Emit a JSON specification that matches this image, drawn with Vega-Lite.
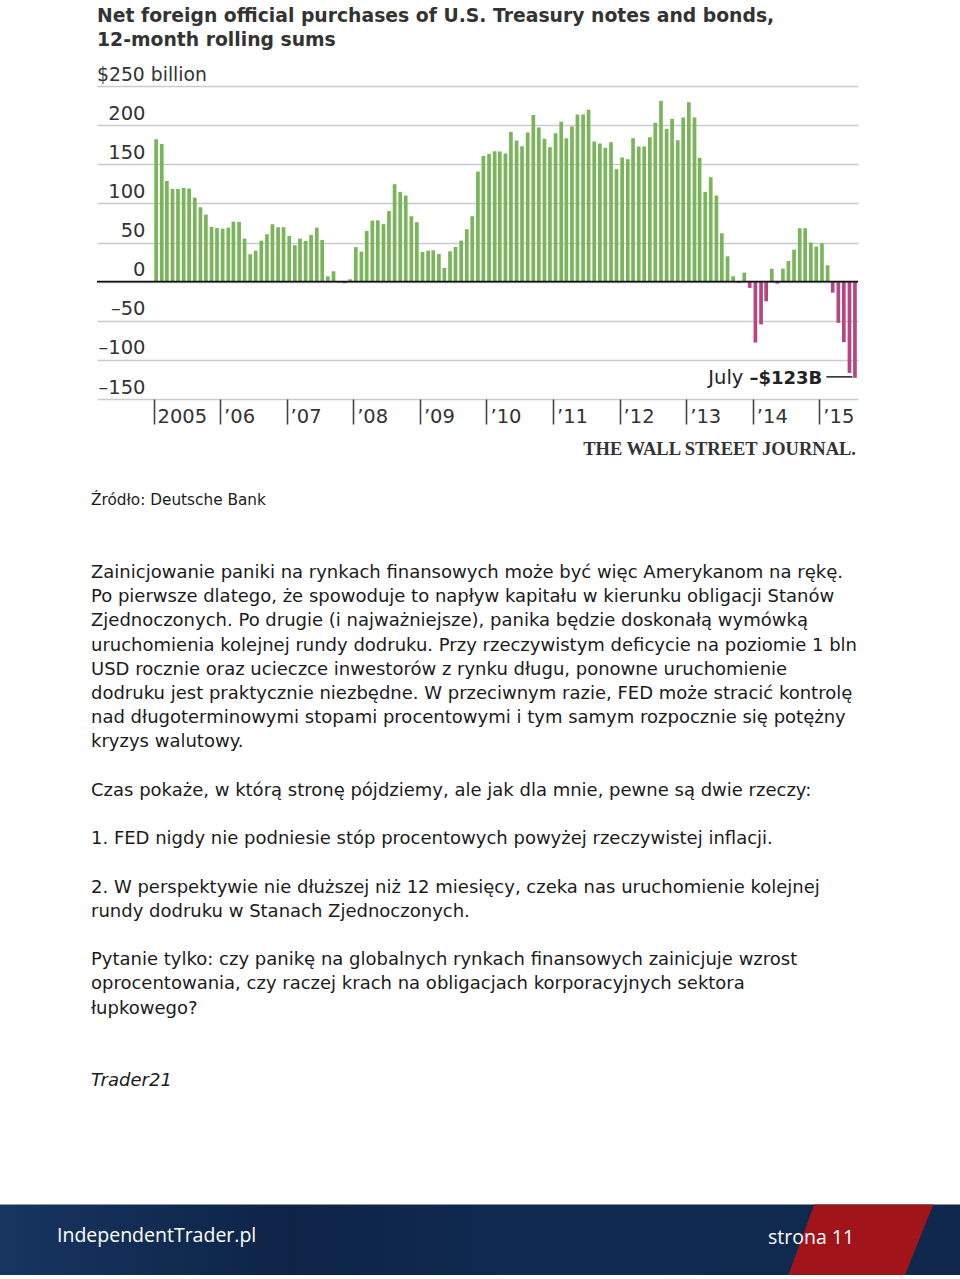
{
  "$schema": "https://vega.github.io/schema/vega-lite/v6.json",
  "width": 761,
  "height": 313,
  "autosize": {"type": "none"},
  "padding": {"left": 97, "top": 86, "right": 102, "bottom": 880},
  "background": "white",
  "config": {"view": {"stroke": null}},
  "datasets": {
    "purchases": [
      {"month": "2005-01", "value": 182}, {"month": "2005-02", "value": 176}, {"month": "2005-03", "value": 128.7}, {"month": "2005-04", "value": 118.5}, {"month": "2005-05", "value": 118.5}, {"month": "2005-06", "value": 119.8}, {"month": "2005-07", "value": 119}, {"month": "2005-08", "value": 107.4}, {"month": "2005-09", "value": 95}, {"month": "2005-10", "value": 85.7}, {"month": "2005-11", "value": 69.9}, {"month": "2005-12", "value": 68.6},
      {"month": "2006-01", "value": 67.8}, {"month": "2006-02", "value": 69}, {"month": "2006-03", "value": 76.7}, {"month": "2006-04", "value": 76.3}, {"month": "2006-05", "value": 55}, {"month": "2006-06", "value": 35}, {"month": "2006-07", "value": 39.6}, {"month": "2006-08", "value": 52.4}, {"month": "2006-09", "value": 60.5}, {"month": "2006-10", "value": 73.3}, {"month": "2006-11", "value": 69.5}, {"month": "2006-12", "value": 69.5},
      {"month": "2007-01", "value": 58.4}, {"month": "2007-02", "value": 46.5}, {"month": "2007-03", "value": 55}, {"month": "2007-04", "value": 52}, {"month": "2007-05", "value": 59.7}, {"month": "2007-06", "value": 69}, {"month": "2007-07", "value": 53.3}, {"month": "2007-08", "value": 6.8}, {"month": "2007-09", "value": 13.2}, {"month": "2007-10", "value": -1}, {"month": "2007-11", "value": -2}, {"month": "2007-12", "value": 3},
      {"month": "2008-01", "value": 44}, {"month": "2008-02", "value": 38.4}, {"month": "2008-03", "value": 64.8}, {"month": "2008-04", "value": 78}, {"month": "2008-05", "value": 78.4}, {"month": "2008-06", "value": 73.5}, {"month": "2008-07", "value": 90.2}, {"month": "2008-08", "value": 124.5}, {"month": "2008-09", "value": 114.7}, {"month": "2008-10", "value": 110}, {"month": "2008-11", "value": 83.6}, {"month": "2008-12", "value": 75.9},
      {"month": "2009-01", "value": 38}, {"month": "2009-02", "value": 39.6}, {"month": "2009-03", "value": 40}, {"month": "2009-04", "value": 35.4}, {"month": "2009-05", "value": 17.5}, {"month": "2009-06", "value": 38.8}, {"month": "2009-07", "value": 44.3}, {"month": "2009-08", "value": 52.4}, {"month": "2009-09", "value": 67}, {"month": "2009-10", "value": 83.6}, {"month": "2009-11", "value": 140.7}, {"month": "2009-12", "value": 160.7},
      {"month": "2010-01", "value": 163.3}, {"month": "2010-02", "value": 166.7}, {"month": "2010-03", "value": 166.3}, {"month": "2010-04", "value": 163.7}, {"month": "2010-05", "value": 191.4}, {"month": "2010-06", "value": 180.3}, {"month": "2010-07", "value": 173}, {"month": "2010-08", "value": 190.6}, {"month": "2010-09", "value": 213}, {"month": "2010-10", "value": 197}, {"month": "2010-11", "value": 182.5}, {"month": "2010-12", "value": 171.8},
      {"month": "2011-01", "value": 189.7}, {"month": "2011-02", "value": 204.2}, {"month": "2011-03", "value": 183.3}, {"month": "2011-04", "value": 198.2}, {"month": "2011-05", "value": 213.6}, {"month": "2011-06", "value": 213.6}, {"month": "2011-07", "value": 219.5}, {"month": "2011-08", "value": 179}, {"month": "2011-09", "value": 176.5}, {"month": "2011-10", "value": 171}, {"month": "2011-11", "value": 178.2}, {"month": "2011-12", "value": 143.7},
      {"month": "2012-01", "value": 158.6}, {"month": "2012-02", "value": 156.5}, {"month": "2012-03", "value": 183.3}, {"month": "2012-04", "value": 172.6}, {"month": "2012-05", "value": 172.6}, {"month": "2012-06", "value": 184.6}, {"month": "2012-07", "value": 202.9}, {"month": "2012-08", "value": 231}, {"month": "2012-09", "value": 195.2}, {"month": "2012-10", "value": 208}, {"month": "2012-11", "value": 180.7}, {"month": "2012-12", "value": 209.7},
      {"month": "2013-01", "value": 229.3}, {"month": "2013-02", "value": 209.7}, {"month": "2013-03", "value": 158.2}, {"month": "2013-04", "value": 114.7}, {"month": "2013-05", "value": 133.4}, {"month": "2013-06", "value": 110}, {"month": "2013-07", "value": 61.8}, {"month": "2013-08", "value": 32.4}, {"month": "2013-09", "value": 6.8}, {"month": "2013-10", "value": -1.5}, {"month": "2013-11", "value": 11.5}, {"month": "2013-12", "value": -8},
      {"month": "2014-01", "value": -77.8}, {"month": "2014-02", "value": -54.7}, {"month": "2014-03", "value": -25.2}, {"month": "2014-04", "value": 16.5}, {"month": "2014-05", "value": -2.5}, {"month": "2014-06", "value": 16.6}, {"month": "2014-07", "value": 26.4}, {"month": "2014-08", "value": 40.9}, {"month": "2014-09", "value": 68.2}, {"month": "2014-10", "value": 68.2}, {"month": "2014-11", "value": 49.9}, {"month": "2014-12", "value": 44.8},
      {"month": "2015-01", "value": 49}, {"month": "2015-02", "value": 20.9}, {"month": "2015-03", "value": -14.1}, {"month": "2015-04", "value": -52.6}, {"month": "2015-05", "value": -77.4}, {"month": "2015-06", "value": -116.7}, {"month": "2015-07", "value": -123}
    ],
    "labels": [{"unit": "$250 billion", "month": "July", "amount": "–$123B", "credit": "THE WALL STREET JOURNAL."}],
    "title": [
      {"line": 1, "text": "Net foreign official purchases of U.S. Treasury notes and bonds,"},
      {"line": 2, "text": "12-month rolling sums"}
    ],
    "source": [{"line": -3, "text": "Źródło: Deutsche Bank"}],
    "body": [
      {"line": 0, "text": "Zainicjowanie paniki na rynkach finansowych może być więc Amerykanom na rękę."},
      {"line": 1, "text": "Po pierwsze dlatego, że spowoduje to napływ kapitału w kierunku obligacji Stanów"},
      {"line": 2, "text": "Zjednoczonych. Po drugie (i najważniejsze), panika będzie doskonałą wymówką"},
      {"line": 3, "text": "uruchomienia kolejnej rundy dodruku. Przy rzeczywistym deficycie na poziomie 1 bln"},
      {"line": 4, "text": "USD rocznie oraz ucieczce inwestorów z rynku długu, ponowne uruchomienie"},
      {"line": 5, "text": "dodruku jest praktycznie niezbędne. W przeciwnym razie, FED może stracić kontrolę"},
      {"line": 6, "text": "nad długoterminowymi stopami procentowymi i tym samym rozpocznie się potężny"},
      {"line": 7, "text": "kryzys walutowy."},
      {"line": 9, "text": "Czas pokaże, w którą stronę pójdziemy, ale jak dla mnie, pewne są dwie rzeczy:"},
      {"line": 11, "text": "1.  FED nigdy nie podniesie stóp procentowych powyżej rzeczywistej inflacji."},
      {"line": 13, "text": "2.  W perspektywie nie dłuższej niż 12 miesięcy, czeka nas uruchomienie kolejnej"},
      {"line": 14, "text": "rundy dodruku w Stanach Zjednoczonych."},
      {"line": 16, "text": "Pytanie tylko: czy panikę na globalnych rynkach finansowych zainicjuje wzrost"},
      {"line": 17, "text": "oprocentowania, czy raczej krach na obligacjach korporacyjnych sektora"},
      {"line": 18, "text": "łupkowego?"}
    ],
    "signature": [{"line": 21, "text": "Trader21"}],
    "footer": [{"site": "IndependentTrader.pl", "page": "strona 11"}]
  },
  "layer": [
    {
      "layer": [
        {
          "data": {"name": "purchases"},
          "mark": {"type": "bar", "width": 3.7, "xOffset": 2.6},
          "encoding": {
            "x": {
              "field": "month", "type": "temporal",
              "scale": {"type": "utc", "nice": false, "padding": 0, "domain": [{"year": 2004, "month": 2, "date": 26, "utc": true}, {"year": 2015, "month": 8, "date": 1, "utc": true}]},
              "axis": {
                "title": null, "domain": false, "grid": false, "tickCount": 40,
                "values": [{"year": 2005, "month": 1, "date": 1, "utc": true}, {"year": 2006, "month": 1, "date": 1, "utc": true}, {"year": 2007, "month": 1, "date": 1, "utc": true}, {"year": 2008, "month": 1, "date": 1, "utc": true}, {"year": 2009, "month": 1, "date": 1, "utc": true}, {"year": 2010, "month": 1, "date": 1, "utc": true}, {"year": 2011, "month": 1, "date": 1, "utc": true}, {"year": 2012, "month": 1, "date": 1, "utc": true}, {"year": 2013, "month": 1, "date": 1, "utc": true}, {"year": 2014, "month": 1, "date": 1, "utc": true}, {"year": 2015, "month": 1, "date": 1, "utc": true}],
                "labelExpr": "utcyear(datum.value) == 2005 ? '2005' : '’' + utcFormat(datum.value, '%y')",
                "ticks": true, "tickSize": 25, "tickColor": "#444444", "tickWidth": 1.6,
                "labelAlign": "left", "labelBaseline": "middle", "labelPadding": -8, "labelOffset": 3.5,
                "labelFont": "DejaVu Sans", "labelFontSize": 19.5, "labelColor": "#333333",
                "labelFlush": false, "labelOverlap": false, "labelBound": false
              }
            },
            "y": {
              "field": "value", "type": "quantitative",
              "scale": {"domain": [-150, 250], "nice": false, "zero": false},
              "axis": {
                "title": null, "domain": false, "ticks": false, "tickSize": 0, "tickCount": 40,
                "values": [-150, -100, -50, 0, 50, 100, 150, 200, 250],
                "grid": true, "gridColor": "#cbcbcb", "gridWidth": 1.6,
                "labelExpr": "datum.value == 250 ? '' : (datum.value < 0 ? '–' + abs(datum.value) : '' + datum.value)",
                "labelAlign": "right", "labelBaseline": "alphabetic", "labelPadding": -48, "labelOffset": -6,
                "labelFont": "DejaVu Sans", "labelFontSize": 19.5, "labelColor": "#333333",
                "labelFlush": false, "labelOverlap": false, "labelBound": false
              }
            },
            "color": {"condition": {"test": "datum.value < 0", "value": "#b5467f"}, "value": "#7ab45b"}
          }
        },
        {
          "data": {"name": "labels"},
          "mark": {"type": "rule", "color": "#111111", "strokeWidth": 1.6},
          "encoding": {"y": {"datum": 0}}
        },
        {
          "data": {"name": "labels"},
          "mark": {"type": "text", "align": "left", "baseline": "alphabetic", "dy": -5, "font": "DejaVu Sans", "fontSize": 18.8, "color": "#333333"},
          "encoding": {"text": {"field": "unit"}, "x": {"value": 0}, "y": {"datum": 250}}
        },
        {
          "data": {"name": "labels"},
          "mark": {"type": "text", "align": "right", "baseline": "alphabetic", "dx": -109, "dy": 6, "font": "DejaVu Sans", "fontSize": 19.5, "color": "#222222"},
          "encoding": {"text": {"field": "month"}, "x": {"datum": {"year": 2015, "month": 7, "date": 1, "utc": true}}, "y": {"datum": -123}}
        },
        {
          "data": {"name": "labels"},
          "mark": {"type": "text", "align": "right", "baseline": "alphabetic", "dx": -30, "dy": 6, "font": "DejaVu Sans", "fontWeight": "bold", "fontSize": 18, "color": "#222222"},
          "encoding": {"text": {"field": "amount"}, "x": {"datum": {"year": 2015, "month": 7, "date": 1, "utc": true}}, "y": {"datum": -123}}
        },
        {
          "data": {"name": "labels"},
          "mark": {"type": "rule", "color": "#222222", "strokeWidth": 1.5, "xOffset": -26, "x2Offset": 0, "yOffset": -1},
          "encoding": {"x": {"datum": {"year": 2015, "month": 7, "date": 1, "utc": true}}, "x2": {"datum": {"year": 2015, "month": 7, "date": 1, "utc": true}}, "y": {"datum": -123}}
        },
        {
          "data": {"name": "labels"},
          "mark": {"type": "text", "align": "right", "baseline": "alphabetic", "dx": -2, "dy": 56, "font": "Liberation Serif", "fontWeight": "bold", "fontSize": 18.5, "color": "#333333"},
          "encoding": {"text": {"field": "credit"}, "x": {"value": "width"}, "y": {"datum": -150}}
        }
      ]
    },
    {
      "data": {"name": "title"},
      "mark": {"type": "text", "align": "left", "baseline": "middle", "font": "DejaVu Sans", "fontWeight": "bold", "fontSize": 18.8, "color": "#333333"},
      "encoding": {
        "text": {"field": "text"},
        "x": {"value": 0},
        "y": {"field": "line", "type": "quantitative", "scale": {"domain": [1, 2], "range": [-70, -46], "nice": false, "zero": false}, "axis": null}
      }
    },
    {
      "layer": [
        {
          "data": {"name": "source"},
          "mark": {"type": "text", "align": "left", "baseline": "middle", "font": "DejaVu Sans", "fontSize": 15.3, "color": "#1b1b1b"},
          "encoding": {
            "text": {"field": "text"},
            "x": {"value": -6},
            "y": {"field": "line", "type": "quantitative", "scale": {"domain": [0, 21], "range": [487, 995.2], "nice": false, "zero": false}, "axis": null}
          }
        },
        {
          "data": {"name": "body"},
          "mark": {"type": "text", "align": "left", "baseline": "middle", "font": "DejaVu Sans", "fontSize": 18, "color": "#1b1b1b"},
          "encoding": {
            "text": {"field": "text"},
            "x": {"value": -6},
            "y": {"field": "line", "type": "quantitative", "scale": {"domain": [0, 21], "range": [487, 995.2], "nice": false, "zero": false}, "axis": null}
          }
        },
        {
          "data": {"name": "signature"},
          "mark": {"type": "text", "align": "left", "baseline": "middle", "font": "DejaVu Sans", "fontStyle": "italic", "fontSize": 18, "color": "#1b1b1b"},
          "encoding": {
            "text": {"field": "text"},
            "x": {"value": -6},
            "y": {"field": "line", "type": "quantitative", "scale": {"domain": [0, 21], "range": [487, 995.2], "nice": false, "zero": false}, "axis": null}
          }
        }
      ]
    },
    {
      "data": {"name": "footer"},
      "mark": {
        "type": "rect",
        "color": {"gradient": "linear", "x1": 0, "x2": 1, "y1": 0, "y2": 0, "stops": [{"offset": 0, "color": "#173560"}, {"offset": 0.3, "color": "#0d2447"}, {"offset": 0.55, "color": "#112a52"}, {"offset": 1, "color": "#10284d"}]}
      },
      "encoding": {"x": {"value": -97}, "x2": {"value": 863}, "y": {"value": 1118.5}, "y2": {"value": 1189}}
    },
    {
      "data": {"name": "footer"},
      "mark": {"type": "point", "shape": "M0,0L119,0L90.7,70.5L-26,70.5Z", "size": 4, "filled": true, "opacity": 1, "color": "#a0141a", "strokeWidth": 0},
      "encoding": {"x": {"value": 717.3}, "y": {"value": 1118.5}}
    },
    {
      "data": {"name": "footer"},
      "mark": {"type": "text", "align": "left", "baseline": "alphabetic", "font": "Open Sans", "fontSize": 19.5, "color": "#ffffff"},
      "encoding": {"text": {"field": "site"}, "x": {"value": -40}, "y": {"value": 1156.3}}
    },
    {
      "data": {"name": "footer"},
      "mark": {"type": "text", "align": "left", "baseline": "alphabetic", "font": "Open Sans", "fontSize": 19.5, "color": "#ffffff"},
      "encoding": {"text": {"field": "page"}, "x": {"value": 671}, "y": {"value": 1158}}
    }
  ],
  "resolve": {"scale": {"x": "independent", "y": "independent"}}
}
